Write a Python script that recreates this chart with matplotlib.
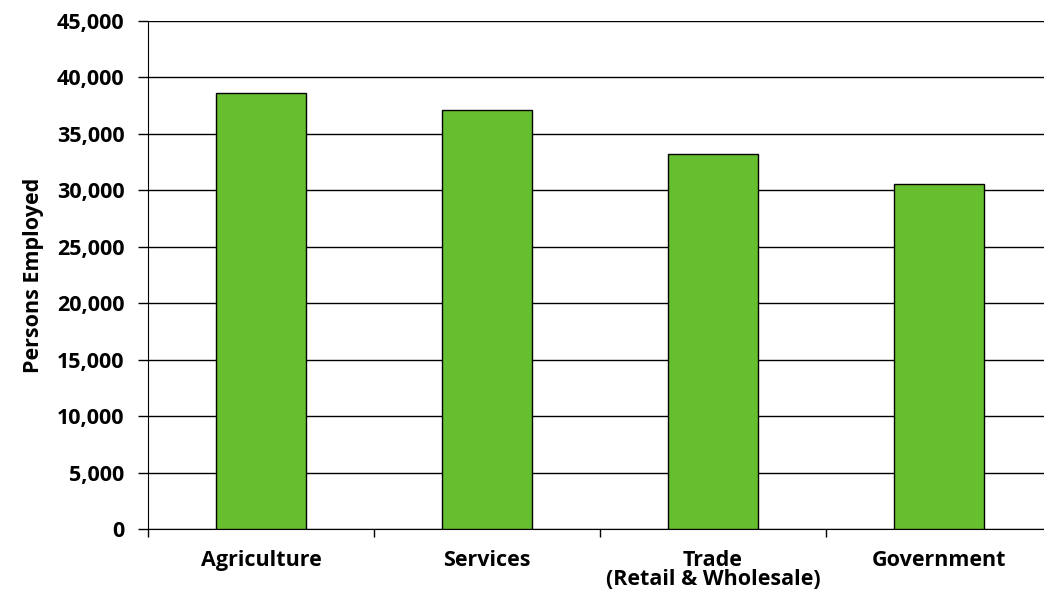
import numpy as np
import matplotlib.pyplot as plt
from matplotlib.ticker import FuncFormatter

categories = ["Agriculture", "Services", "Trade\n(Retail & Wholesale)", "Government"]
employed = [38600, 37100, 33200, 30600]
yticks = list(range(0, 45001, 5000))

plt.rcParams['font.family'] = ['Open Sans', 'DejaVu Sans']

fig = plt.figure(figsize=(10.44, 6), dpi=100)
ax = fig.add_axes([148/1044, 71/600, 904/1044, 508/600])

x = np.arange(len(categories))
ax.bar(x, employed, width=0.4, color='#66bf2f', edgecolor='black', linewidth=1, zorder=3)

ax.set_xlim(-0.5, 3.5)
ax.set_ylim(0, 45000)
ax.set_yticks(yticks)
ax.yaxis.set_major_formatter(FuncFormatter(lambda v, p: f"{int(v):,}"))
ax.yaxis.grid(True, color='black', linewidth=1, zorder=0)

ax.set_xticks(np.arange(-0.5, 3.6, 1.0))
ax.set_xticklabels([])
ax.set_xticks(x, minor=True)
ax.set_xticklabels(categories, minor=True, fontsize=15.5, fontweight='bold', linespacing=0.9)
ax.tick_params(axis='x', which='minor', length=0, pad=15)
ax.tick_params(axis='x', which='major', length=6, direction='out', width=1)
ax.tick_params(axis='y', length=7, width=1, labelsize=15.5, pad=10)
for lbl in ax.get_yticklabels():
    lbl.set_fontweight('bold')

ax.spines['top'].set_visible(False)
ax.spines['right'].set_visible(False)

ax.set_ylabel("Persons Employed", fontsize=15.5, fontweight='bold', labelpad=9)

fig.savefig("out.png", dpi=100)
